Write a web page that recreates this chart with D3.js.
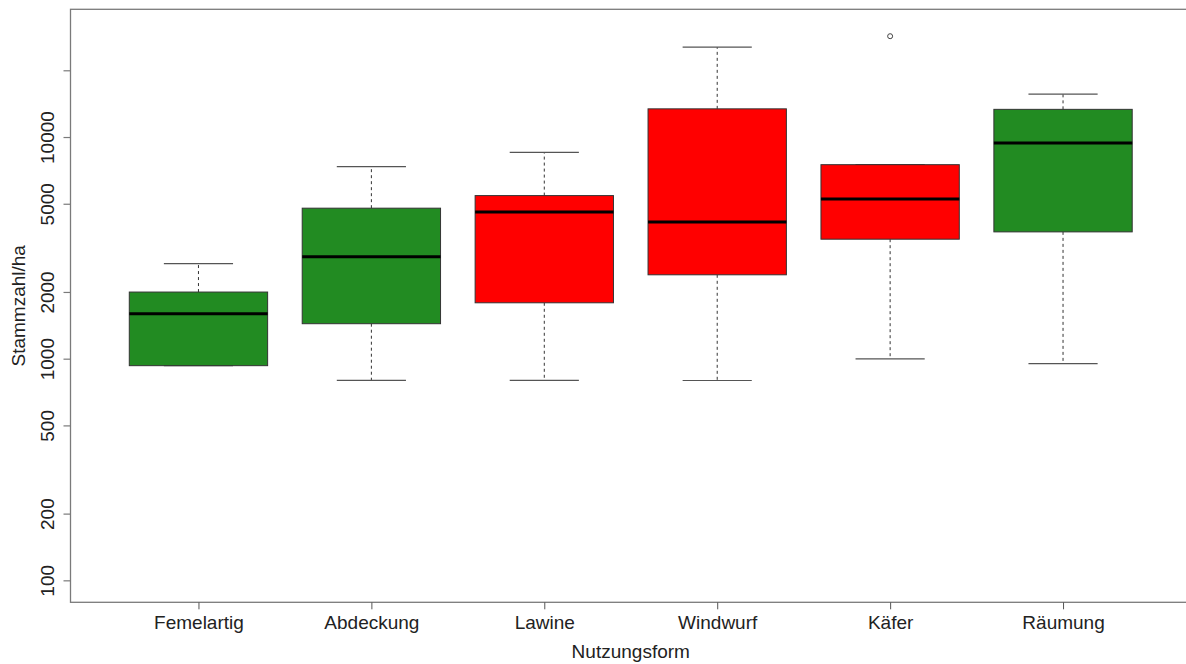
<!DOCTYPE html>
<html>
<head>
<meta charset="utf-8">
<script src="https://cdn.jsdelivr.net/npm/d3@7/dist/d3.min.js"></script>
<style>
  html, body { margin: 0; padding: 0; background: #fff; }
  svg { display: block; font-family: "Liberation Sans", Arial, sans-serif; }
</style>
</head>
<body>
<svg id="chart" width="1186" height="664"></svg>
<script>
// Stem counts per hectare by management type (box-plot statistics)
const categories   = ["Femelartig", "Abdeckung", "Lawine", "Windwurf", "Käfer", "Räumung"];
const lowerWhisker = [930, 798, 798, 797, 997, 949];
const q1           = [930, 1438, 1787, 2390, 3460, 3733];
const median       = [1595, 2881, 4594, 4141, 5257, 9400];
const q3           = [1998, 4775, 5442, 13400, 7503, 13330];
const upperWhisker = [2687, 7350, 8530, 25430, 7503, 15630];
const outliers     = [[], [], [], [], [28500], []];
const fillColors   = ["#228B22", "#228B22", "#FF0000", "#FF0000", "#FF0000", "#228B22"];

const yTickValues = [100, 200, 500, 1000, 2000, 5000, 10000, 20000];
const yTickLabels = ["100", "200", "500", "1000", "2000", "5000", "10000", ""];
const yLimits = [100, 30000];

const svg = d3.select("#chart");

const plot = { left: 70.5, right: 1191, top: 9.3, bottom: 602.3 };
const fontSize = "19px";

// log scale with 4% padding on each side of the limits
const pad = 0.04 * Math.log10(yLimits[1] / yLimits[0]);
const y = d3.scaleLog()
  .domain([yLimits[0] / Math.pow(10, pad), yLimits[1] * Math.pow(10, pad)])
  .range([plot.bottom, plot.top]);

// box positions 1..n, range 0.5..n+0.5 padded by 4%
const n = categories.length;
const xPad = 0.04 * n;
const x = d3.scaleLinear()
  .domain([0.5 - xPad, n + 0.5 + xPad])
  .range([plot.left, plot.right]);

const step = x(2) - x(1);
const boxW = 0.8 * step;
const capW = 0.4 * step;

// frame
svg.append("rect")
  .attr("x", plot.left).attr("y", plot.top)
  .attr("width", plot.right - plot.left).attr("height", plot.bottom - plot.top)
  .attr("fill", "none").attr("stroke", "#7a7a7a").attr("stroke-width", 1.3);

const g = svg.append("g");

categories.forEach((c, i) => {
  const cx = x(i + 1);
  const grp = g.append("g");

  // whiskers (dashed)
  if (upperWhisker[i] > q3[i]) {
    grp.append("line")
      .attr("x1", cx).attr("x2", cx)
      .attr("y1", y(q3[i])).attr("y2", y(upperWhisker[i]))
      .attr("stroke", "#333").attr("stroke-width", 1).attr("stroke-dasharray", "3,3");
  }
  if (lowerWhisker[i] < q1[i]) {
    grp.append("line")
      .attr("x1", cx).attr("x2", cx)
      .attr("y1", y(q1[i])).attr("y2", y(lowerWhisker[i]))
      .attr("stroke", "#333").attr("stroke-width", 1).attr("stroke-dasharray", "3,3");
  }
  // caps
  [lowerWhisker[i], upperWhisker[i]].forEach(v => {
    grp.append("line")
      .attr("x1", cx - capW / 2).attr("x2", cx + capW / 2)
      .attr("y1", y(v)).attr("y2", y(v))
      .attr("stroke", "#555").attr("stroke-width", 1.2);
  });

  // box
  grp.append("rect")
    .attr("x", cx - boxW / 2)
    .attr("y", y(q3[i]))
    .attr("width", boxW)
    .attr("height", y(q1[i]) - y(q3[i]))
    .attr("fill", fillColors[i])
    .attr("stroke", "#333").attr("stroke-width", 1);

  // median
  grp.append("line")
    .attr("x1", cx - boxW / 2).attr("x2", cx + boxW / 2)
    .attr("y1", y(median[i])).attr("y2", y(median[i]))
    .attr("stroke", "#000").attr("stroke-width", 3);

  // outliers
  outliers[i].forEach(v => {
    grp.append("circle")
      .attr("cx", cx).attr("cy", y(v)).attr("r", 2.5)
      .attr("fill", "none").attr("stroke", "#444").attr("stroke-width", 1);
  });
});

// y axis
const yAxis = d3.axisLeft(y)
  .tickValues(yTickValues)
  .tickFormat((d, i) => yTickLabels[i])
  .tickSize(7);
const yG = svg.append("g").attr("transform", `translate(${plot.left},0)`).call(yAxis);
yG.select(".domain").remove();
yG.selectAll(".tick line").attr("stroke", "#7a7a7a").attr("stroke-width", 1.2);
yG.selectAll(".tick text")
  .attr("transform", "rotate(-90)")
  .attr("x", 0).attr("y", -17).attr("dy", 0)
  .attr("text-anchor", "middle")
  .attr("fill", "#222")
  .style("font-size", fontSize)
  .style("font-family", "'Liberation Sans', Arial, sans-serif");

// x axis
const xAxis = d3.axisBottom(x)
  .tickValues(d3.range(1, n + 1))
  .tickFormat(d => categories[d - 1])
  .tickSize(7);
const xG = svg.append("g").attr("transform", `translate(0,${plot.bottom})`).call(xAxis);
xG.select(".domain").remove();
xG.selectAll(".tick line").attr("stroke", "#555").attr("stroke-width", 1);
xG.selectAll(".tick text")
  .attr("y", 27).attr("dy", 0)
  .attr("fill", "#222")
  .style("font-size", fontSize)
  .style("font-family", "'Liberation Sans', Arial, sans-serif");

// axis titles
svg.append("text")
  .attr("x", (plot.left + plot.right) / 2).attr("y", 658)
  .attr("text-anchor", "middle")
  .attr("fill", "#222")
  .style("font-size", fontSize)
  .text("Nutzungsform");

svg.append("text")
  .attr("transform", `translate(25,${(plot.top + plot.bottom) / 2}) rotate(-90)`)
  .attr("text-anchor", "middle")
  .attr("fill", "#222")
  .style("font-size", fontSize)
  .text("Stammzahl/ha");
</script>
</body>
</html>
